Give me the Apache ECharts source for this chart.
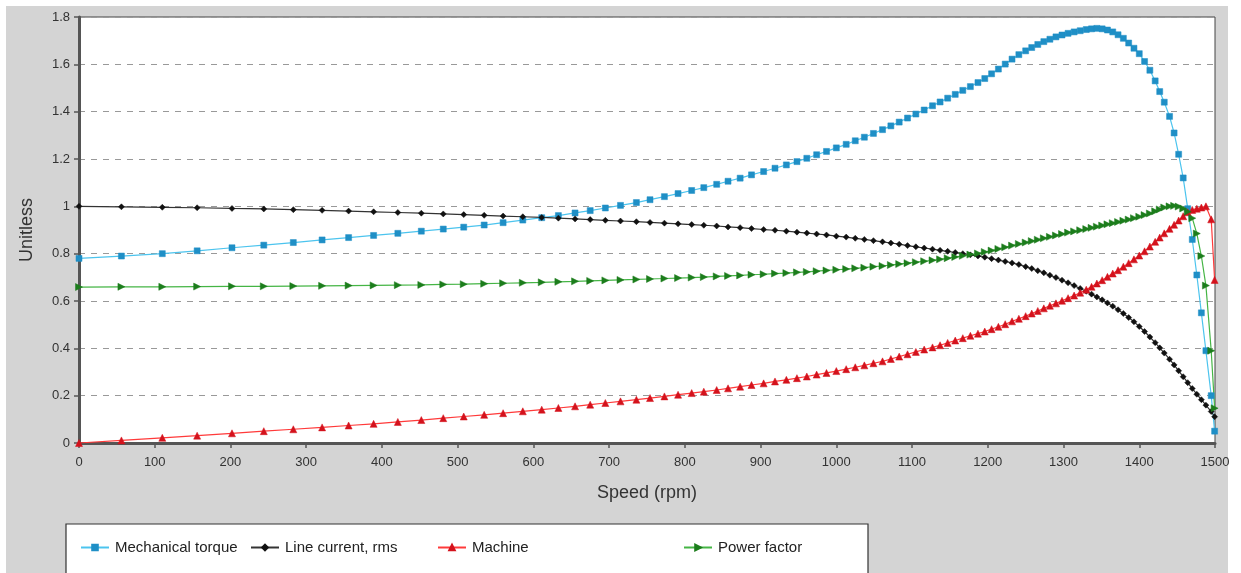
<!DOCTYPE html>
<html>
<head>
<meta charset="utf-8">
<script src="https://cdn.jsdelivr.net/npm/echarts@6/dist/echarts.min.js"></script>
<style>
html,body{margin:0;padding:0;background:#fff;}
#wrap{position:relative;width:1241px;height:573px;background:#fff;overflow:hidden;}
#panel{position:absolute;left:6px;top:6px;width:1222px;height:567px;background:#d4d4d4;}
#chart{position:absolute;left:0;top:0;width:1241px;height:573px;}
</style>
</head>
<body>
<div id="wrap"><div id="panel"></div><div id="chart"></div></div>
<script>
const speed = [0,56,110,156,202,244,283,321,356,389,421,
452,481,508,535,560,586,611,633,655,675,695,715,736,754,773,791,
809,825,842,857,873,888,904,919,934,948,961,974,987,1000,1013,1025,1037,1049,1061,1072,1083,1094,1105,1116,1127,1137,1147,1157,1167,1177,1187,
1196,1205,1214,1223,1232,1241,1250,1258,1266,1274,1282,1290,1298,1306,1314,1322,1330,1337,1344,1351,1358,1365,1372,1379,1386,1393,1400,1407,1414,1421,1427,1433,1440,1446,1452,1458,1464,1470,1476,1482,1488,1495,1499.5];

const torque = [0.780,0.790,0.800,0.812,0.825,0.836,0.847,0.858,0.868,0.877,0.886,
0.895,0.904,0.912,0.921,0.931,0.942,0.952,0.961,0.972,0.982,0.993,1.004,1.016,1.028,1.041,1.054,
1.067,1.079,1.093,1.106,1.119,1.133,1.147,1.161,1.175,1.189,1.203,1.218,1.232,1.247,1.262,1.277,1.292,1.308,1.324,1.340,1.356,1.373,1.390,1.407,1.425,1.441,1.457,1.473,1.490,1.506,1.523,
1.540,1.560,1.580,1.601,1.622,1.641,1.657,1.671,1.684,1.696,1.706,1.716,1.724,1.731,1.737,1.742,1.747,1.750,1.752,1.750,1.745,1.737,1.725,1.710,1.690,1.668,1.645,1.612,1.575,1.530,1.485,1.440,1.380,1.310,1.220,1.120,0.990,0.860,0.710,0.550,0.390,0.200,0.050];

const current = [1.000,0.998,0.996,0.994,0.991,0.989,0.986,0.983,0.980,0.977,0.974,
0.971,0.968,0.965,0.962,0.959,0.956,0.953,0.950,0.947,0.944,0.941,0.938,0.935,0.932,0.929,0.926,
0.923,0.920,0.917,0.913,0.910,0.906,0.902,0.899,0.895,0.891,0.887,0.883,0.879,0.874,0.870,0.865,0.860,0.855,0.850,0.845,0.840,0.834,0.829,0.824,0.819,0.814,0.810,0.805,0.800,0.795,0.790,
0.785,0.779,0.773,0.767,0.761,0.754,0.745,0.737,0.728,0.719,0.709,0.699,0.688,0.677,0.665,0.653,0.641,0.629,0.617,0.605,0.592,0.578,0.563,0.547,0.530,0.512,0.492,0.471,0.448,0.424,0.402,0.380,0.354,0.330,0.305,0.280,0.255,0.230,0.206,0.183,0.160,0.133,0.111];

const machine = [0,0.011,0.022,0.031,0.041,0.050,0.058,0.066,0.074,0.081,0.089,
0.097,0.105,0.112,0.119,0.126,0.134,0.141,0.148,0.155,0.162,0.169,0.176,0.183,0.190,0.197,0.204,
0.211,0.217,0.224,0.231,0.238,0.245,0.252,0.260,0.267,0.274,0.281,0.289,0.296,0.304,0.312,0.320,0.328,0.337,0.345,0.355,0.365,0.375,0.385,0.395,0.404,0.413,0.423,0.433,0.443,0.453,0.462,
0.471,0.481,0.491,0.502,0.514,0.525,0.536,0.547,0.558,0.569,0.580,0.590,0.601,0.612,0.623,0.635,0.648,0.660,0.674,0.688,0.702,0.716,0.730,0.745,0.760,0.776,0.792,0.810,0.830,0.850,0.868,0.886,0.905,0.922,0.940,0.958,0.975,0.985,0.990,0.995,1.000,0.945,0.689];

const powerFactor = [0.659,0.660,0.660,0.661,0.662,0.662,0.663,0.664,0.665,0.666,0.667,
0.668,0.670,0.671,0.673,0.675,0.677,0.679,0.681,0.683,0.685,0.687,0.689,0.691,0.693,0.695,0.697,
0.699,0.701,0.704,0.706,0.708,0.711,0.713,0.716,0.718,0.721,0.723,0.726,0.729,0.732,0.735,0.738,0.741,0.745,0.748,0.752,0.756,0.760,0.764,0.768,0.772,0.776,0.781,0.786,0.791,0.796,0.801,
0.807,0.813,0.820,0.827,0.834,0.841,0.847,0.853,0.859,0.865,0.871,0.877,0.883,0.889,0.894,0.899,0.904,0.909,0.914,0.919,0.924,0.929,0.934,0.939,0.944,0.950,0.956,0.963,0.970,0.979,0.987,0.995,1.000,1.002,0.999,0.991,0.977,0.950,0.885,0.790,0.665,0.390,0.147];

const seriesNames = ['Mechanical torque','Line current, rms','Machine','Power factor'];
const xTicks = {min:0, max:1500, interval:100};
const yTicks = {min:0, max:1.8, interval:0.2};

function pairs(ys){ return speed.map((x,i)=>[x, ys[i]]); }

const chart = echarts.init(document.getElementById('chart'), null, {renderer:'canvas'});
const font = 'Liberation Sans, Arial, sans-serif';
function mk(name, ys, symbol, size, mcol, lcol, rot){
  return {
    name:name, type:'line', data:pairs(ys), symbol:symbol, symbolSize:size,
    symbolRotate: rot||0, showSymbol:true, showAllSymbol:true, animation:false,
    itemStyle:{color:mcol, borderColor:mcol, borderWidth:0.5},
    lineStyle:{color:lcol, width:1.2}
  };
}
function lg(name, left){
  return {data:[name], left:left, top:540, itemWidth:28, itemHeight:7, itemGap:0,
    textStyle:{fontFamily:font, fontSize:15, color:'#222', padding:[0,0,0,1]}, padding:0, selectedMode:false};
}
chart.setOption({
  backgroundColor:'transparent',
  animation:false,
  textStyle:{fontFamily:font},
  grid:{left:79, right:26, top:17, bottom:130, show:true, backgroundColor:'#ffffff', borderColor:'#444', borderWidth:1},
  graphic:[{type:'rect', shape:{x:66, y:524, width:802, height:60}, style:{fill:'#ffffff', stroke:'#333', lineWidth:1.2}, z:0}],
  legend:[lg(seriesNames[0],80), lg(seriesNames[1],250), lg(seriesNames[2],437), lg(seriesNames[3],683)],
  xAxis:{type:'value', min:xTicks.min, max:xTicks.max, interval:xTicks.interval,
    name:'Speed (rpm)', nameLocation:'middle', nameGap:41,
    nameTextStyle:{fontFamily:font, fontSize:18, color:'#333'},
    axisLine:{show:true, onZero:false, lineStyle:{color:'#555', width:3}},
    axisTick:{show:true, inside:false, length:5, lineStyle:{color:'#555', width:1.5}},
    axisLabel:{fontFamily:font, fontSize:13, color:'#333', margin:13, formatter:function(v){return String(v);}},
    splitLine:{show:false}},
  yAxis:{type:'value', min:yTicks.min, max:yTicks.max, interval:yTicks.interval,
    name:'Unitless', nameLocation:'middle', nameGap:43, nameRotate:90,
    nameTextStyle:{fontFamily:font, fontSize:18, color:'#333'},
    axisLine:{show:true, lineStyle:{color:'#555', width:3}},
    axisTick:{show:true, inside:false, length:5, lineStyle:{color:'#555', width:1.5}},
    axisLabel:{fontFamily:font, fontSize:13, color:'#333', margin:9},
    splitLine:{show:true, lineStyle:{color:'#999', width:1, type:[6,6]}}},
  series:[
    mk(seriesNames[0], torque, 'rect', 6, '#1f8fc6', '#4cc4ee'),
    mk(seriesNames[1], current, 'diamond', 6, '#111111', '#333333'),
    mk(seriesNames[2], machine, 'triangle', 7, '#d4121c', '#ff3a3a'),
    mk(seriesNames[3], powerFactor, 'triangle', 7, '#1c7d1c', '#45b545', -90)
  ]
});
</script>
</body>
</html>
